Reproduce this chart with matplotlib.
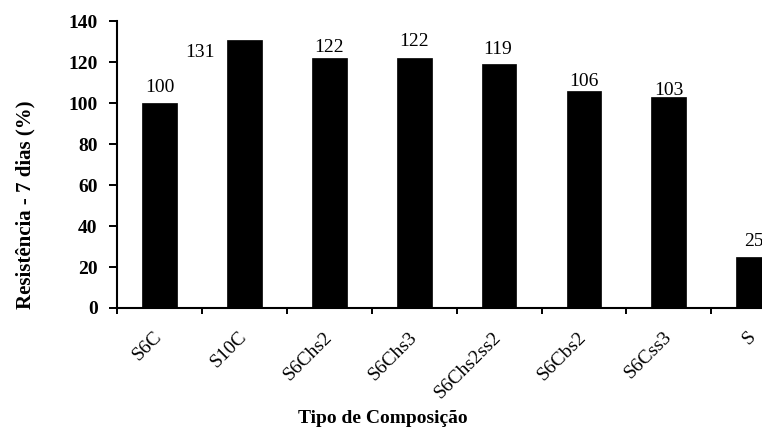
import matplotlib
matplotlib.use("Agg")
import matplotlib.pyplot as plt

# Compressive strength at 7 days, relative to reference (%)
categories = ["S6C", "S10C", "S6Chs2", "S6Chs3", "S6Chs2ss2", "S6Cbs2", "S6Css3", "S"]
values = [100, 131, 122, 122, 119, 106, 103, 25]
y_ticks = [0, 20, 40, 60, 80, 100, 120, 140]

# label offsets (points) from the top-centre of each bar
label_dx = [0, -32, 0, 0, -1, 0, 0, 0]
label_dy = [11, -9, 8, 12, 11, 7, 5, 11]

plt.rcParams["font.family"] = ["Liberation Serif", "DejaVu Serif"]

fig = plt.figure(figsize=(7.62, 4.36), dpi=100)
W, H = 762, 436
left_px, right_px = 117, 117 + 8 * 84.9
bottom_px, top_px = 308, 21.3
ax = fig.add_axes([left_px / W, 1 - bottom_px / H,
                   (right_px - left_px) / W, (bottom_px - top_px) / H])

x = list(range(len(categories)))
bars = ax.bar(x, values, width=0.41, color="black", edgecolor="black", linewidth=0.5)

for xi, v, dx, dy in zip(x, values, label_dx, label_dy):
    ax.annotate(str(v), xy=(xi, v), xytext=(dx, dy), textcoords="offset points",
                ha="center", va="center", fontsize=14)

ax.set_xlim(-0.5, len(categories) - 0.5)
ax.set_ylim(0, 140)
ax.set_yticks(y_ticks)
ax.set_yticklabels([str(t) for t in y_ticks], fontsize=14, fontweight="bold")
ax.tick_params(axis="y", direction="out", length=6, width=1.4, pad=8)

# category labels at bar centres, tick marks at category boundaries
ax.set_xticks(x)
ax.set_xticklabels(categories, rotation=45, ha="right", va="center",
                   rotation_mode="anchor", fontsize=14)
ax.tick_params(axis="x", which="major", length=0, pad=19)
ax.set_xticks([i - 0.5 for i in range(len(categories) + 1)], minor=True)
ax.tick_params(axis="x", which="minor", direction="out", length=4, width=1.4)

for s in ("top", "right"):
    ax.spines[s].set_visible(False)
for s in ("left", "bottom"):
    ax.spines[s].set_linewidth(1.5)

fig.text(25 / W, 1 - 205 / H, "Resistência - 7 dias (%)", rotation=90,
         ha="center", va="center", fontsize=15, fontweight="bold")
fig.text(383 / W, 1 - 418 / H, "Tipo de Composição",
         ha="center", va="center", fontsize=14, fontweight="bold")

fig.savefig("out.png", dpi=100)
